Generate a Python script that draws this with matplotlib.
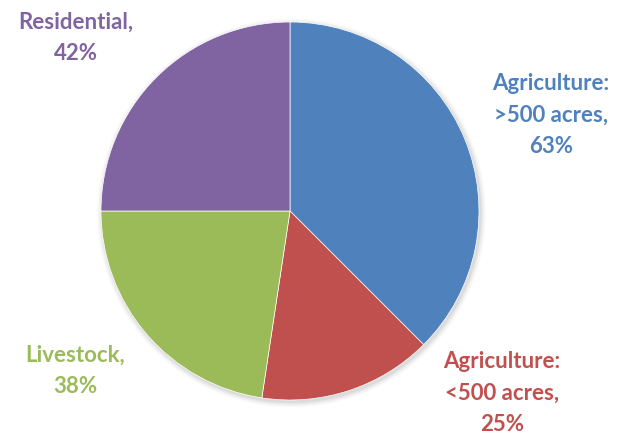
import matplotlib
matplotlib.use("Agg")
import matplotlib.pyplot as plt
from matplotlib.patches import Circle

# Land use shares (values as labelled)
categories = ["Agriculture:\n>500 acres,", "Agriculture:\n<500 acres,", "Livestock,", "Residential,"]
values = [63, 25, 38, 42]
colors = ["#4F81BD", "#C0504D", "#9BBB59", "#8064A2"]
label_xy = [(551, 324), (502, 46), (75, 68), (76, 401)]

W, H = 622, 439
fig = plt.figure(figsize=(W / 100, H / 100), dpi=100)
ax = fig.add_axes([0, 0, 1, 1])

cx, cy, r = 290, H - 212, 189

# soft drop shadow beneath the pie
for i, a in enumerate([0.05, 0.04, 0.03, 0.02]):
    ax.add_patch(Circle((cx + 1.5, cy - 2.0), r + 1 + i * 1.5, color="black",
                        alpha=a, lw=0, zorder=0))

ax.pie(values, colors=colors, startangle=90, counterclock=False,
       center=(cx, cy), radius=r, frame=True,
       wedgeprops=dict(linewidth=0.5, edgecolor="white"))

for name, val, col, (x, y) in zip(categories, values, colors, label_xy):
    ax.text(x, y, f"{name}\n{val}%", color=col, ha="center", va="center",
            fontsize=16, fontweight="bold", family="Lato", linespacing=1.62)

ax.set_xlim(0, W)
ax.set_ylim(0, H)
ax.set_aspect("auto")
ax.axis("off")
fig.savefig("out.png", dpi=100, facecolor="white")
